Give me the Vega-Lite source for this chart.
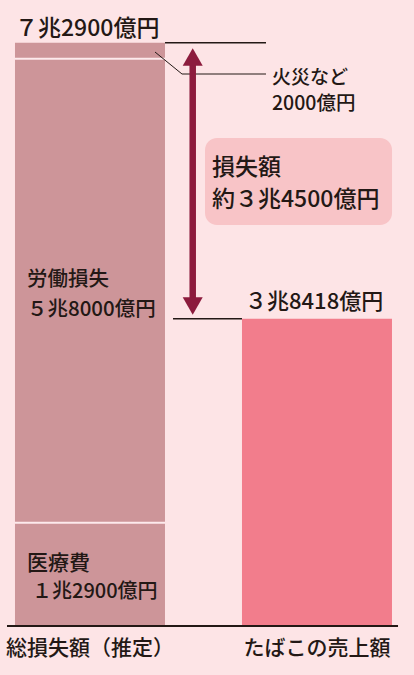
{
  "$schema": "https://vega.github.io/schema/vega-lite/v6.json",
  "width": 414,
  "height": 626,
  "padding": {"left": 0, "top": 0, "right": 0, "bottom": 49},
  "autosize": {"type": "none"},
  "background": "#fde4e6",
  "config": {"view": {"stroke": null}, "font": "Noto Sans CJK JP"},
  "resolve": {"scale": {"x": "independent"}},
  "layer": [
    {
      "data": {"values": [
        {"category": "総損失額（推定）", "item": "医療費", "amount": 1.29, "seq": 1},
        {"category": "総損失額（推定）", "item": "労働損失", "amount": 5.8, "seq": 2},
        {"category": "総損失額（推定）", "item": "火災など", "amount": 0.2, "seq": 3},
        {"category": "たばこの売上額", "item": "たばこの売上額", "amount": 3.8418, "seq": 1}
      ]},
      "mark": {"type": "bar"},
      "encoding": {
        "x": {"field": "category", "type": "nominal", "sort": ["総損失額（推定）", "たばこの売上額"],
              "scale": {"paddingInner": 0.3392, "paddingOuter": 0.0815, "align": 0.405},
              "axis": {"title": null, "domain": false, "ticks": false, "tickSize": 0, "labelAngle": 0,
                       "labelFontSize": 21, "labelFontWeight": 500, "labelColor": "#231815", "labelPadding": 11, "labelFont": "Noto Sans CJK JP", "labelBaseline": "top"}},
        "y": {"field": "amount", "type": "quantitative", "stack": "zero",
              "scale": {"domain": [0, 7.825], "nice": false}, "axis": null},
        "order": {"field": "seq", "type": "quantitative"},
        "color": {"field": "item", "type": "nominal",
                  "scale": {"domain": ["医療費", "労働損失", "火災など", "たばこの売上額"], "range": ["#cd9599", "#cd9599", "#cd9599", "#f27d8c"]},
                  "legend": null}
      }
    },
    {
      "data": {"values": [{}]},
      "layer": [
        {"mark": {"type": "rule", "color": "#fdeaec", "strokeWidth": 2},
         "encoding": {"x": {"datum": 3.62, "type": "quantitative", "scale": {"domain": [0, 100], "nice": false}, "axis": null},
                      "x2": {"datum": 39.86}, "y": {"datum": 1.29, "type": "quantitative"}}},
        {"mark": {"type": "rule", "color": "#fdeaec", "strokeWidth": 2},
         "encoding": {"x": {"datum": 3.62, "type": "quantitative"}, "x2": {"datum": 39.86}, "y": {"datum": 7.09, "type": "quantitative"}}},
        {"mark": {"type": "rule", "color": "#231815", "strokeWidth": 2},
         "encoding": {"x": {"datum": 1.69, "type": "quantitative"}, "x2": {"datum": 96.14}, "y": {"datum": 0, "type": "quantitative"}}},
        {"mark": {"type": "rule", "color": "#231815", "strokeWidth": 1.5},
         "encoding": {"x": {"datum": 39.86, "type": "quantitative"}, "x2": {"datum": 64.25}, "y": {"datum": 7.29, "type": "quantitative"}}},
        {"mark": {"type": "rule", "color": "#231815", "strokeWidth": 1.5},
         "encoding": {"x": {"datum": 41.79, "type": "quantitative"}, "x2": {"datum": 58.45}, "y": {"datum": 3.8418, "type": "quantitative"}}},
        {"mark": {"type": "rule", "color": "#231815", "strokeWidth": 1},
         "encoding": {"x": {"datum": 37.44, "type": "quantitative"}, "x2": {"datum": 43.96}, "y": {"datum": 7.175, "type": "quantitative"}, "y2": {"datum": 6.9}}},
        {"mark": {"type": "rule", "color": "#231815", "strokeWidth": 1},
         "encoding": {"x": {"datum": 43.96, "type": "quantitative"}, "x2": {"datum": 64.25}, "y": {"datum": 6.9, "type": "quantitative"}}},
        {"mark": {"type": "rule", "color": "#8c1b3d", "strokeWidth": 6.5},
         "encoding": {"x": {"datum": 46.55, "type": "quantitative"}, "y": {"datum": 7.05, "type": "quantitative"}, "y2": {"datum": 4.05}}},
        {"mark": {"type": "point", "shape": "triangle-up", "size": 400, "filled": true, "color": "#8c1b3d", "opacity": 1, "strokeWidth": 0},
         "encoding": {"x": {"datum": 46.55, "type": "quantitative"}, "y": {"datum": 7.1125, "type": "quantitative"}}},
        {"mark": {"type": "point", "shape": "triangle-down", "size": 400, "filled": true, "color": "#8c1b3d", "opacity": 1, "strokeWidth": 0},
         "encoding": {"x": {"datum": 46.55, "type": "quantitative"}, "y": {"datum": 4.0, "type": "quantitative"}}},
        {"mark": {"type": "rect", "color": "#f8c4c7", "cornerRadius": 12},
         "encoding": {"x": {"datum": 49.52, "type": "quantitative"}, "x2": {"datum": 94.69}, "y": {"datum": 6.1, "type": "quantitative"}, "y2": {"datum": 5.0125}}},
        {"mark": {"type": "text", "text": "７兆2900億円", "align": "left", "baseline": "middle", "fontSize": 23, "fontWeight": 500, "color": "#231815", "font": "Noto Sans CJK JP"},
         "encoding": {"x": {"datum": 3.62, "type": "quantitative"}, "y": {"datum": 7.465, "type": "quantitative"}}},
        {"mark": {"type": "text", "text": "火災など", "align": "left", "baseline": "middle", "fontSize": 19, "fontWeight": 500, "color": "#231815", "font": "Noto Sans CJK JP"},
         "encoding": {"x": {"datum": 65.7, "type": "quantitative"}, "y": {"datum": 6.855, "type": "quantitative"}}},
        {"mark": {"type": "text", "text": "2000億円", "align": "left", "baseline": "middle", "fontSize": 19.5, "fontWeight": 500, "color": "#231815", "font": "Noto Sans CJK JP"},
         "encoding": {"x": {"datum": 65.7, "type": "quantitative"}, "y": {"datum": 6.52, "type": "quantitative"}}},
        {"mark": {"type": "text", "text": "損失額", "align": "left", "baseline": "middle", "fontSize": 23, "fontWeight": 500, "color": "#231815", "font": "Noto Sans CJK JP"},
         "encoding": {"x": {"datum": 51.21, "type": "quantitative"}, "y": {"datum": 5.73, "type": "quantitative"}}},
        {"mark": {"type": "text", "text": "約３兆4500億円", "align": "left", "baseline": "middle", "fontSize": 23, "fontWeight": 500, "color": "#231815", "font": "Noto Sans CJK JP"},
         "encoding": {"x": {"datum": 51.21, "type": "quantitative"}, "y": {"datum": 5.33, "type": "quantitative"}}},
        {"mark": {"type": "text", "text": "３兆8418億円", "align": "left", "baseline": "middle", "fontSize": 22, "fontWeight": 500, "color": "#231815", "font": "Noto Sans CJK JP"},
         "encoding": {"x": {"datum": 59.18, "type": "quantitative"}, "y": {"datum": 4.055, "type": "quantitative"}}},
        {"mark": {"type": "text", "text": "労働損失", "align": "left", "baseline": "middle", "fontSize": 20.5, "fontWeight": 500, "color": "#231815", "font": "Noto Sans CJK JP"},
         "encoding": {"x": {"datum": 6.52, "type": "quantitative"}, "y": {"datum": 4.33, "type": "quantitative"}}},
        {"mark": {"type": "text", "text": "５兆8000億円", "align": "left", "baseline": "middle", "fontSize": 20.5, "fontWeight": 500, "color": "#231815", "font": "Noto Sans CJK JP"},
         "encoding": {"x": {"datum": 6.52, "type": "quantitative"}, "y": {"datum": 3.955, "type": "quantitative"}}},
        {"mark": {"type": "text", "text": "医療費", "align": "left", "baseline": "middle", "fontSize": 21, "fontWeight": 500, "color": "#231815", "font": "Noto Sans CJK JP"},
         "encoding": {"x": {"datum": 6.52, "type": "quantitative"}, "y": {"datum": 0.78, "type": "quantitative"}}},
        {"mark": {"type": "text", "text": "１兆2900億円", "align": "left", "baseline": "middle", "fontSize": 20, "fontWeight": 500, "color": "#231815", "font": "Noto Sans CJK JP"},
         "encoding": {"x": {"datum": 7.73, "type": "quantitative"}, "y": {"datum": 0.43, "type": "quantitative"}}}
      ]
    }
  ]
}
